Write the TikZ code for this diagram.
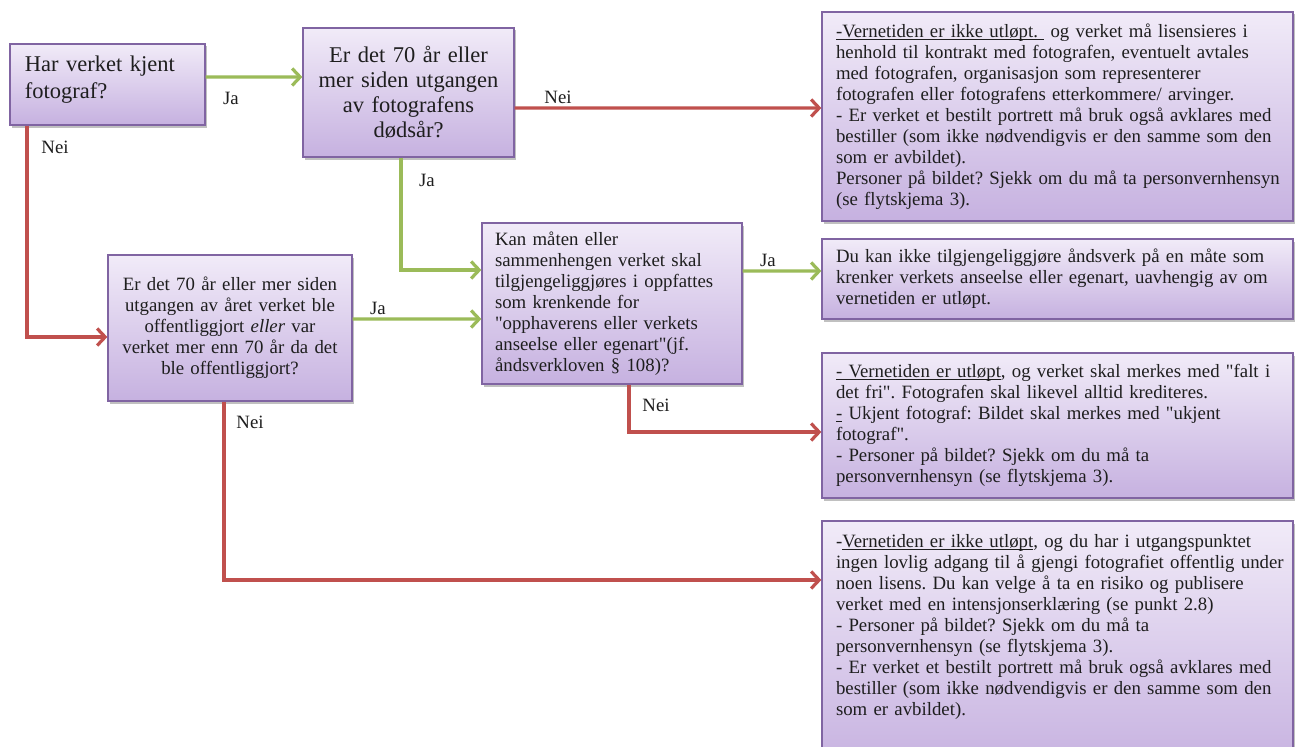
\documentclass[tikz,border=0pt]{standalone}
\usepackage{fontspec}
\setmainfont{Liberation Serif}[Ligatures=TeXOff]
\usetikzlibrary{arrows.meta,shadows}
\definecolor{boxtop}{HTML}{F1EBF8}
\definecolor{boxbot}{HTML}{C6B1E0}
\definecolor{boxline}{HTML}{8064A2}
\definecolor{jagreen}{HTML}{9BBB59}
\definecolor{neired}{HTML}{C0504D}
\definecolor{txt}{HTML}{1E1E1E}
\newcommand{\dq}{"}
\newsavebox{\ulbox}
\newcommand{\ulx}[1]{\leavevmode\sbox{\ulbox}{#1}\rlap{\rule[-2.6bp]{\wd\ulbox}{1.1bp}}\usebox{\ulbox}}
\frenchspacing
\begin{document}
\begin{tikzpicture}[x=1bp,y=-1bp,
  box/.style={draw=boxline, line width=1.3bp, top color=boxtop, bottom color=boxbot,
    drop shadow={shadow xshift=2bp,shadow yshift=-2.5bp,opacity=0.35,fill=black!70},
    inner xsep=0bp, inner ysep=0bp, text=txt},
  small/.style={font=\fontsize{18.8bp}{21bp}\selectfont},
  big/.style={font=\fontsize{22.5bp}{25bp}\selectfont},
  yes/.style={draw=jagreen, line width=3.2bp, -{Straight Barb[length=8bp,width=17bp]}},
  no/.style={draw=neired, line width=3.2bp, -{Straight Barb[length=8bp,width=17bp]}},
  lbl/.style={font=\fontsize{18.8bp}{21bp}\selectfont, text=txt, inner sep=0bp}]
\fill[white] (0,0) rectangle (1295,747);
\useasboundingbox (0,0) rectangle (1295,747);

\node[box, font=\fontsize{22.5bp}{27bp}\selectfont, minimum width=195bp, minimum height=81bp, text width=165bp, align=left, text depth=42bp]
  (A) at (107.5,84.5) {Har verket kjent\\fotograf?};
\node[box, big, minimum width=211bp, minimum height=129bp, text width=205bp, align=center]
  (B) at (408.5,92.5) {Er det 70 år eller\\mer siden utgangen\\av fotografens\\dødsår?};
\node[box, small, minimum width=244bp, minimum height=146bp, text width=240bp, align=center]
  (C) at (230,328) {Er det 70 år eller mer siden\\utgangen av året verket ble\\offentliggjort \textit{eller} var\\verket mer enn 70 år da det\\ble offentliggjort?};
\node[box, small, minimum width=260bp, minimum height=161bp, text width=234bp, align=left]
  (M) at (612,303.5) {Kan måten eller\\sammenhengen verket skal\\tilgjengeliggjøres i oppfattes\\som krenkende for\\\dq opphaverens eller verkets\\anseelse eller egenart\dq(jf.\\åndsverkloven § 108)?};
\node[box, small, minimum width=471bp, minimum height=209bp, text width=443bp, align=left]
  (D1) at (1057.5,116.5) {\ulx{-Vernetiden er ikke utløpt.\ }\ og verket må lisensieres i\\henhold til kontrakt med fotografen, eventuelt avtales\\med fotografen, organisasjon som representerer\\fotografen eller fotografens etterkommere/ arvinger.\\- Er verket et bestilt portrett må bruk også avklares med\\bestiller (som ikke nødvendigvis er den samme som den\\som er avbildet).\\\mbox{Personer på bildet? Sjekk om du må ta personvernhensyn}\\(se flytskjema 3).};
\node[box, small, minimum width=471bp, minimum height=80bp, text width=443bp, align=left]
  (D2) at (1057.5,279) {Du kan ikke tilgjengeliggjøre åndsverk på en måte som\\krenker verkets anseelse eller egenart, uavhengig av om\\vernetiden er utløpt.};
\node[box, small, minimum width=471bp, minimum height=145bp, text width=443bp, align=left]
  (D3) at (1057.5,425.5) {\ulx{- Vernetiden er utløpt}, og verket skal merkes med \dq falt i\\det fri\dq. Fotografen skal likevel alltid krediteres.\\\ulx{-} Ukjent fotograf: Bildet skal merkes med \dq ukjent\\fotograf\dq.\\- Personer på bildet? Sjekk om du må ta\\personvernhensyn (se flytskjema 3).};
\node[box, small, minimum width=471bp, minimum height=250bp, text width=443bp, align=left]
  (D4) at (1057.5,646) {-\ulx{Vernetiden er ikke utløpt}, og du har i utgangspunktet\\\mbox{ingen lovlig adgang til å gjengi fotografiet offentlig under}\\noen lisens. Du kan velge å ta en risiko og publisere\\verket med en intensjonserklæring (se punkt 2.8)\\- Personer på bildet? Sjekk om du må ta\\personvernhensyn (se flytskjema 3).\\- Er verket et bestilt portrett må bruk også avklares med\\bestiller (som ikke nødvendigvis er den samme som den\\som er avbildet).\\\mbox{}\\\mbox{}};

\draw[yes] ([yshift=7.5bp]A.east) -- ([yshift=15.5bp]B.west);
\draw[no] ([yshift=-15.5bp]B.east) -- ([yshift=8.5bp]D1.west);
\draw[yes] ([xshift=-7.5bp]B.south) |- ([yshift=33.5bp]M.west);
\draw[no] ([xshift=-80.5bp]A.south) |- ([yshift=-9bp]C.west);
\draw[yes] ([yshift=9bp]C.east) -- ([yshift=-15.5bp]M.west);
\draw[yes] ([yshift=32.5bp]M.east) -- ([yshift=8bp]D2.west);
\draw[no] ([xshift=17bp]M.south) |- ([yshift=-6.5bp]D3.west);
\draw[no] ([xshift=-6bp]C.south) |- ([yshift=66bp]D4.west);

\node[lbl] (l1) at (231,98) {Ja};
\node[lbl] (l2) at (55,147) {Nei};
\node[lbl] (l3) at (558,97) {Nei};
\node[lbl] (l4) at (427,180) {Ja};
\node[lbl] (l5) at (378,308) {Ja};
\node[lbl] (l6) at (768,260) {Ja};
\node[lbl] (l7) at (656,405) {Nei};
\node[lbl] (l8) at (250,422) {Nei};
\end{tikzpicture}
\end{document}
